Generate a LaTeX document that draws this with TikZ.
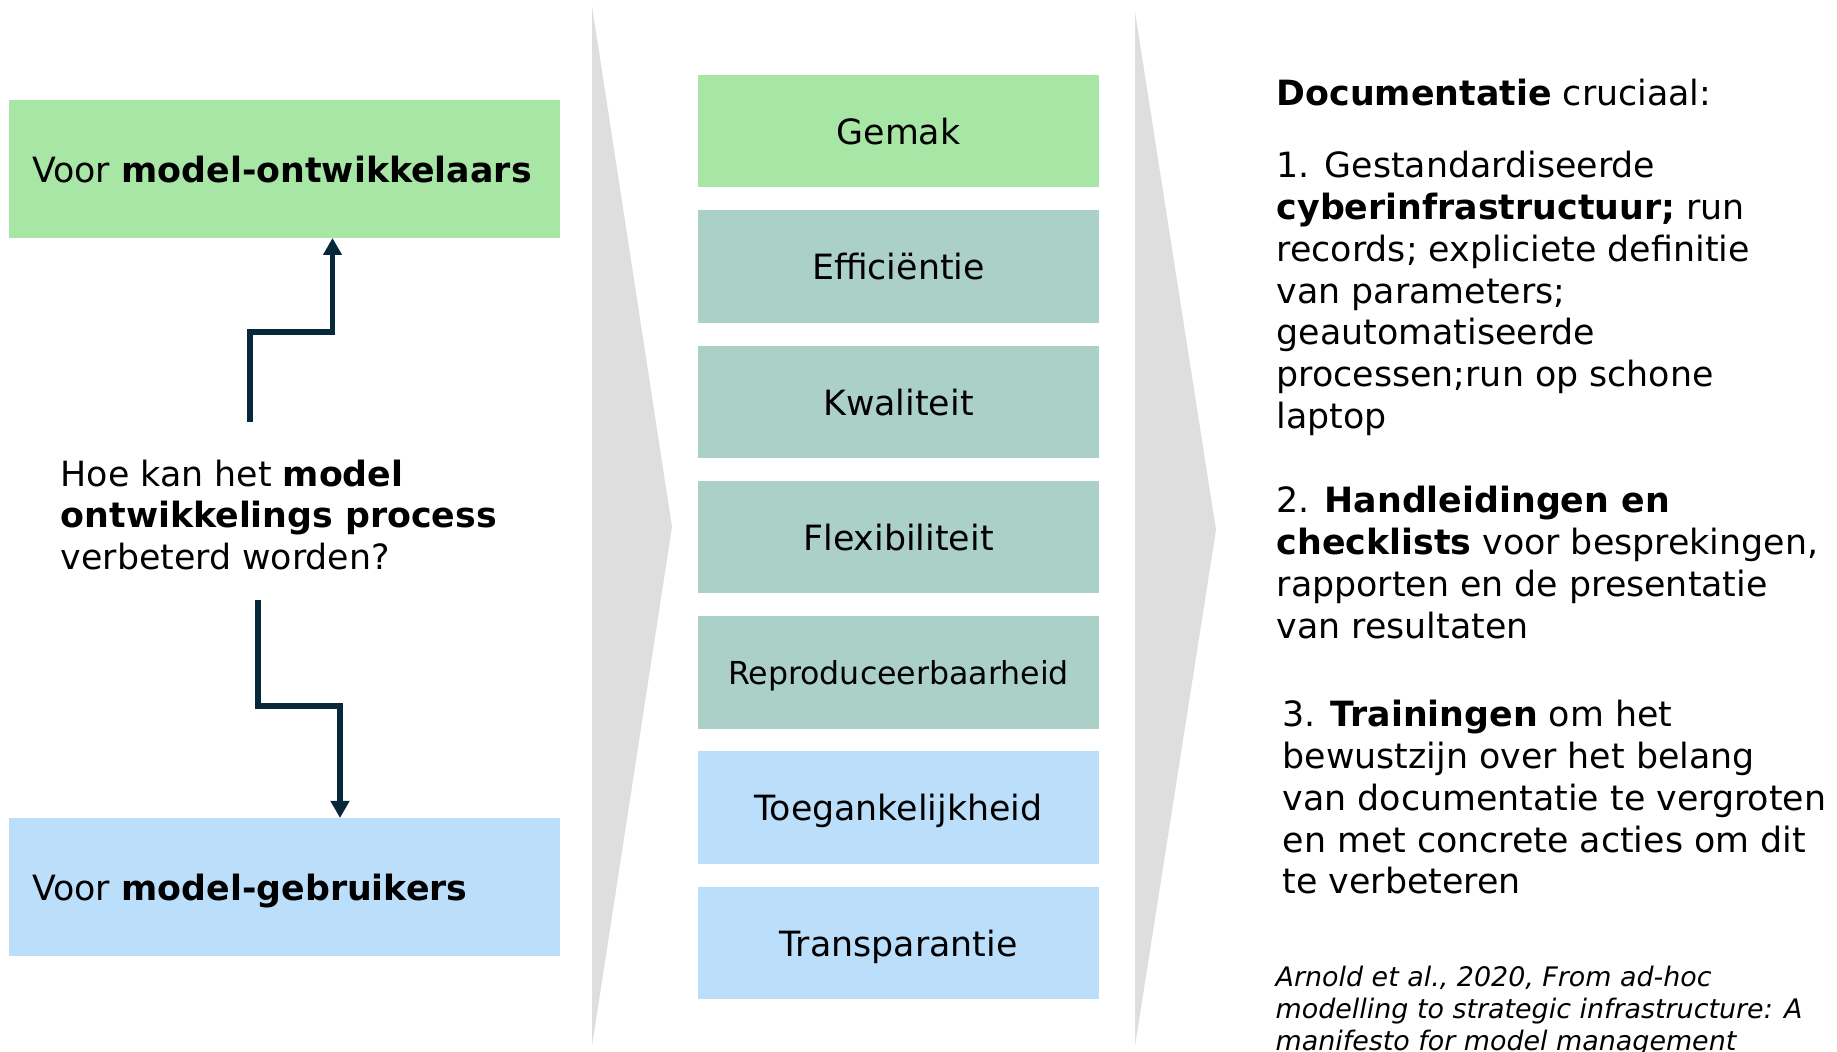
\documentclass[tikz,border=0pt]{standalone}
\usepackage{fontspec}
\setmainfont{DejaVu Sans}
\usetikzlibrary{arrows.meta}
\definecolor{cgreen}{RGB}{168,230,166}
\definecolor{cteal}{RGB}{170,208,200}
\definecolor{cblue}{RGB}{187,222,251}
\definecolor{cgrey}{RGB}{222,222,222}
\definecolor{cnavy}{RGB}{6,40,58}

\begin{document}
\begin{tikzpicture}[
    font=\fontsize{9.9}{11.9}\selectfont,
    side/.style={minimum height=1.38cm, text width=5.05cm, inner xsep=0.23cm, inner ysep=0pt, outer sep=0pt, text depth=0pt, align=left},
    kbox/.style={minimum width=4.01cm, minimum height=1.125cm, inner sep=0pt, outer sep=0pt, text depth=0pt},
    flow/.style={draw=cnavy, line width=1.5pt, -{Triangle[length=1.7mm, width=1.8mm]}},
    wedge/.style={fill=cgrey},
    txt/.style={inner sep=0pt, align=left, anchor=west}
  ]
  \useasboundingbox (0, 0) rectangle (18.37, 10.51);

  % grey chevrons
  \fill [wedge] (5.92, 10.45) -- (6.72, 5.24) -- (5.92, 0.05) -- cycle;
  \fill [wedge] (11.35, 10.39) -- (12.16, 5.21) -- (11.35, 0.05) -- cycle;

  % left column
  \node [side, fill=cgreen] (dev) at (2.845, 8.82) {Voor \textbf{model-ontwikkelaars}};
  \node [side, fill=cblue] (usr) at (2.845, 1.64) {Voor \textbf{model-gebruikers}};
  \node [txt] (q) at (0.60, 5.36) {Hoe kan het \textbf{model}\\ \textbf{ontwikkelings process}\\ verbeterd worden?};

  % arrows up and down
  \coordinate (qt) at (2.50, 6.29);
  \coordinate (qb) at (2.58, 4.51);
  \draw [flow] (qt) -- ++(0, 0.90) -| ([xshift=4.8mm]dev.south);
  \draw [flow] (qb) -- ++(0, -1.06) -| ([xshift=5.55mm]usr.north);

  % middle column
  \foreach \name/\col [count=\i] in {Gemak/cgreen, Efficiëntie/cteal, Kwaliteit/cteal, Flexibiliteit/cteal,
      {\fontsize{9.0}{10}\selectfont Reproduceerbaarheid}/cteal, Toegankelijkheid/cblue, Transparantie/cblue} {
    \node [kbox, fill=\col] (k\i) at (8.985, {9.198 - (\i-1)*1.353}) {\name};
  }

  % right column
  \node [txt] (doc) at (12.76, 9.585) {\textbf{Documentatie} cruciaal:};
  \node [txt] (p1) at (12.76, 7.575) {1. Gestandardiseerde\\ \textbf{cyberinfrastructuur;} run\\ records; expliciete definitie\\ van parameters;\\ geautomatiseerde\\ processen;run op schone\\ laptop};
  \node [txt] (p2) at (12.76, 4.886) {2. \textbf{Handleidingen en}\\ \textbf{checklists} voor besprekingen,\\ rapporten en de presentatie\\ van resultaten};
  \node [txt] (p3) at (12.82, 2.537) {3. \textbf{Trainingen} om het\\ bewustzijn over het belang\\ van documentatie te vergroten\\ en met concrete acties om dit\\ te verbeteren};
  \node [txt, font=\fontsize{7.65}{9.0}\selectfont\itshape] (cite) at (12.75, 0.40) {Arnold et al., 2020, From ad-hoc\\ modelling to strategic infrastructure: A\\ manifesto for model management};
\end{tikzpicture}
\end{document}
